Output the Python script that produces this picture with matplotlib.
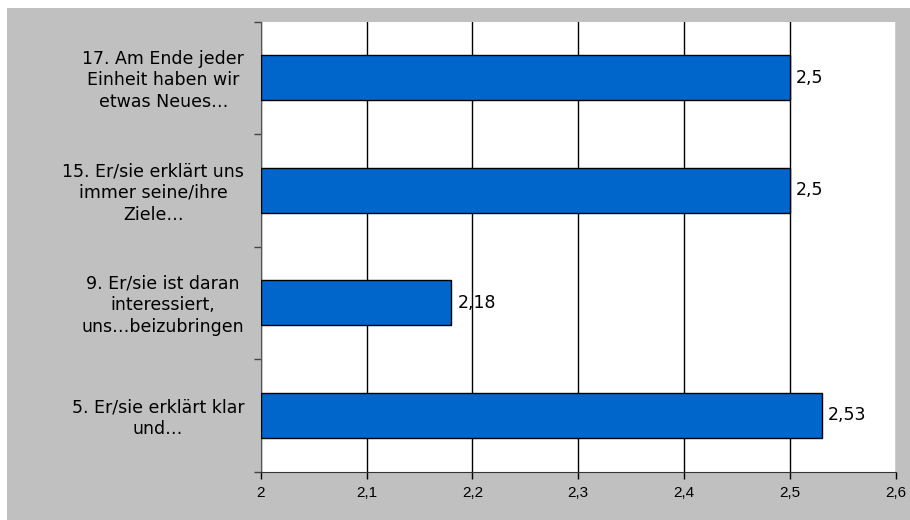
import matplotlib
matplotlib.use("Agg")
import matplotlib.pyplot as plt
from matplotlib.patches import Rectangle
from matplotlib.ticker import FixedLocator, FuncFormatter
from matplotlib.transforms import ScaledTranslation

# Items, listed from bottom to top of the chart
categories = [
    "5. Er/sie erklärt klar\nund…",
    "9. Er/sie ist daran\ninteressiert,\nuns…beizubringen",
    "15. Er/sie erklärt uns\nimmer seine/ihre\nZiele…",
    "17. Am Ende jeder\nEinheit haben wir\netwas Neues…",
]
values = [2.53, 2.18, 2.5, 2.5]
x_ticks = [2.0, 2.1, 2.2, 2.3, 2.4, 2.5, 2.6]

plt.rcParams['font.family'] = ['DejaVu Sans']

W, H = 910, 520
fig = plt.figure(figsize=(W / 100, H / 100), dpi=100, facecolor="white")

# grey chart background, with a thin white strip on top and left
fig.patches.append(Rectangle((7 / W, 0), 1 - 7 / W, (H - 8) / H,
                             transform=fig.transFigure, facecolor="#c0c0c0",
                             edgecolor="none", zorder=-1))

ax = fig.add_axes([260.7 / W, 48.3 / H, 635 / W, 450 / H])
ax.set_facecolor("white")

def comma(v):
    s = f"{v:.2f}".rstrip("0").rstrip(".")
    return s.replace(".", ",")

ypos = list(range(len(categories)))
ax.barh(ypos, [v - 2.0 for v in values], left=2.0, height=0.4,
        color="#0066cc", edgecolor="black", linewidth=1.0, zorder=3)

for y, v in zip(ypos, values):
    ax.text(v + 0.006, y, comma(v), va="center", ha="left",
            fontsize=12.5, color="black", zorder=4)

ax.set_xlim(2.0, 2.6)
ax.set_ylim(-0.5, len(categories) - 0.5)

ax.xaxis.set_major_locator(FixedLocator(x_ticks))
ax.xaxis.set_major_formatter(FuncFormatter(lambda v, p: comma(v)))
ax.tick_params(axis="x", direction="out", length=5, width=1, color="black",
               labelsize=11, pad=5, labelfontfamily="Liberation Sans")

# y ticks sit on the category boundaries; labels are centred on the bars
ax.set_yticks([i - 0.5 for i in range(len(categories) + 1)])
ax.set_yticklabels([])
ax.tick_params(axis="y", direction="out", length=5, width=1, color="#444444")
label_shift = ScaledTranslation(0, -2.5 / 100, fig.dpi_scale_trans)
for y, lab in zip(ypos, categories):
    ax.text(-0.026, y, lab, transform=ax.get_yaxis_transform() + label_shift,
            ha="right", va="center", multialignment="center",
            fontsize=12.5, linespacing=1.26, color="black")

ax.grid(axis="x", color="black", linewidth=1.0, zorder=1)
ax.set_axisbelow(True)

for side in ("top", "right"):
    ax.spines[side].set_visible(False)
ax.spines["left"].set_color("#555555")
ax.spines["bottom"].set_color("#333333")

fig.savefig("out.png", dpi=100, facecolor=fig.get_facecolor())
